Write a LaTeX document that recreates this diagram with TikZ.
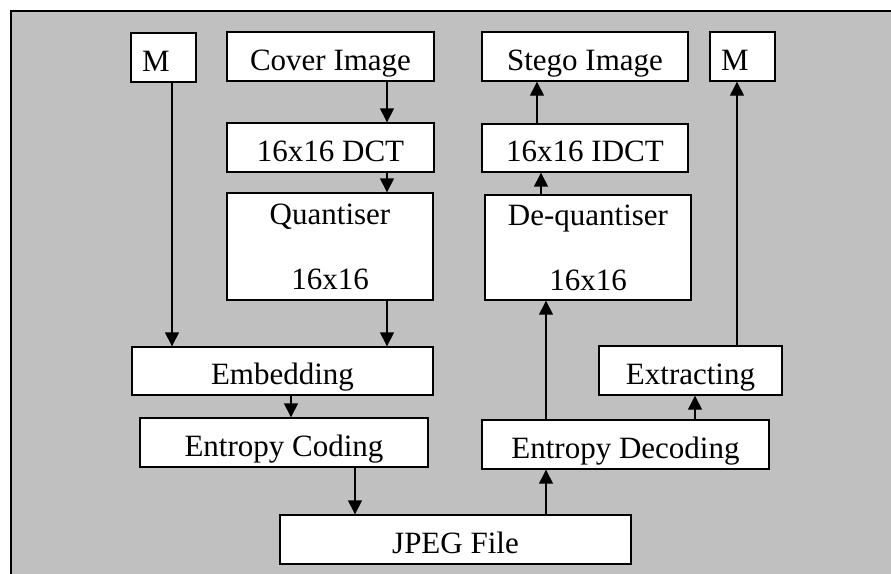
\documentclass[tikz,border=0pt]{standalone}
\usepackage{fontspec}
\setmainfont{Liberation Serif}
\usetikzlibrary{arrows.meta}
\definecolor{bggray}{HTML}{C0C0C0}
\tikzset{
  blk/.style={draw=black, fill=white, line width=1.4pt, inner sep=0pt,
    font=\fontsize{31}{37}\selectfont, align=center},
  one/.style={blk, text height=27pt, text depth=0pt},
  mbox/.style={one, minimum width=65pt, minimum height=49pt, text width=43pt,
    inner xsep=11pt, align=left},
  arr/.style={line width=1.4pt, -{Triangle[width=14pt,length=14pt]}}
}
\begin{document}
\begin{tikzpicture}[x=1pt,y=-1pt]
\useasboundingbox (0,0) rectangle (891,573);
\fill[bggray] (11,11) rectangle (895,577);
\draw[line width=1.7pt] (11,577) -- (11,11) -- (895,11);

\node[mbox] (mL) at (163.5,57.5) {M};
\node[one, minimum width=207pt, minimum height=49pt] (cover) at (330.5,56.5) {Cover Image};
\node[one, minimum width=207pt, minimum height=49pt] (dct) at (330.5,147.5) {16x16 DCT};
\node[blk, minimum width=206pt, minimum height=107pt] (quant) at (330,246.5) {Quantiser\\[28pt]16x16};
\node[one, minimum width=301pt, minimum height=48pt] (emb) at (282.5,371) {Embedding};
\node[one, minimum width=288pt, minimum height=49pt] (enc) at (284,442.5) {Entropy Coding};
\node[one, minimum width=351pt, minimum height=49pt] (jpeg) at (455.5,539.5) {JPEG File};

\node[one, minimum width=206pt, minimum height=49pt] (stego) at (585,56.5) {Stego Image};
\node[one, minimum width=206pt, minimum height=48pt] (idct) at (585,148) {16x16 IDCT};
\node[blk, minimum width=206pt, minimum height=105pt] (deq) at (588,247.5) {De-quantiser\\[28pt]16x16};
\node[mbox] (mR) at (742.5,56.5) {M};
\node[one, minimum width=183pt, minimum height=49pt] (ext) at (690.5,370.5) {Extracting};
\node[one, minimum width=287pt, minimum height=49pt] (dec) at (625.5,444.5) {Entropy Decoding};

\draw[arr] (172,0 |- mL.south) -- (172,0 |- emb.north);
\draw[arr] (387,0 |- cover.south) -- (387,0 |- dct.north);
\draw[arr] (387,0 |- dct.south) -- (387,0 |- quant.north);
\draw[arr] (387,0 |- quant.south) -- (387,0 |- emb.north);
\draw[arr] (291,0 |- emb.south) -- (291,0 |- enc.north);
\draw[arr] (355,0 |- enc.south) -- (355,0 |- jpeg.north);

\draw[arr] (546,0 |- jpeg.north) -- (546,0 |- dec.south);
\draw[arr] (546,0 |- dec.north) -- (546,0 |- deq.south);
\draw[arr] (541,0 |- deq.north) -- (541,0 |- idct.south);
\draw[arr] (537,0 |- idct.north) -- (537,0 |- stego.south);
\draw[arr] (695,0 |- dec.north) -- (695,0 |- ext.south);
\draw[arr] (737,0 |- ext.north) -- (737,0 |- mR.south);
\end{tikzpicture}
\end{document}
